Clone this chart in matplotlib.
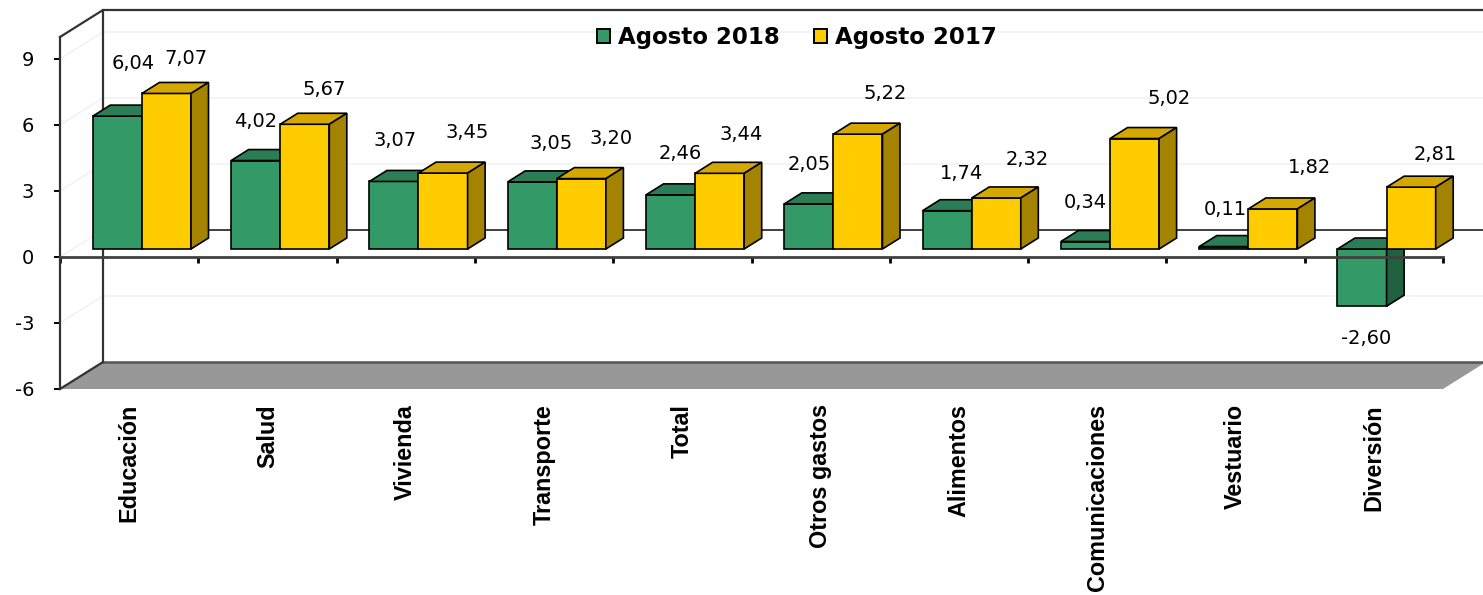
import matplotlib.pyplot as plt
from matplotlib.patches import Polygon, Patch

plt.rcParams['font.family'] = ['DejaVu Sans']
plt.rcParams['axes.unicode_minus'] = False

categories = ['Educación', 'Salud', 'Vivienda', 'Transporte', 'Total',
              'Otros gastos', 'Alimentos', 'Comunicaciones', 'Vestuario', 'Diversión']
ago_2018 = [6.04, 4.02, 3.07, 3.05, 2.46, 2.05, 1.74, 0.34, 0.11, -2.60]
ago_2017 = [7.07, 5.67, 3.45, 3.20, 3.44, 5.22, 2.32, 5.02, 1.82, 2.81]
series_names = ['Agosto 2018', 'Agosto 2017']
yticks = [-6, -3, 0, 3, 6, 9]
ymin, ymax = -6, 10

# data label offsets left by hand in the original (pixels from the bar's front edge)
lab_dx_2018 = [16, 0, 1, 19, 10, 0, 14, 0, 2, 4]
lab_dy_2018 = [-54, -41, -42, -40, -43, -41, -39, -41, -39, 31]
lab_dx_2017 = [19, 19, 24, 30, 21, 27, 31, 35, 37, 24]
lab_dy_2017 = [-36, -36, -42, -42, -40, -42, -40, -42, -43, -34]

### fake 3-D box: px per category, px per unit, depth offset
SX, SY = 138.3, 22.0
DX, DY = 43 / SX, 27 / SY
D0, D1 = 8 / 27, 19 / 27     # bars sit mid-depth
BW = 0.355

green = ('#339966', '#2a7d55', '#20623f')
yellow = ('#ffcc00', '#d4a800', '#a38300')
edge = '#333333'


def P(x, v, d):
    return (x + DX * d, v + DY * d)


def bar3d(ax, x0, v, cols, z):
    x1 = x0 + BW
    top, bot = max(v, 0), min(v, 0)
    front = [P(x0, bot, D0), P(x1, bot, D0), P(x1, top, D0), P(x0, top, D0)]
    lid = [P(x0, top, D0), P(x1, top, D0), P(x1, top, D1), P(x0, top, D1)]
    side = [P(x1, bot, D0), P(x1, bot, D1), P(x1, top, D1), P(x1, top, D0)]
    for pts, c in zip([front, lid, side], cols):
        ax.add_patch(Polygon(pts, closed=True, fc=c, ec='black', lw=1.2, zorder=z))


def fmt(v):
    return '{0:.2f}'.format(v).replace('.', ',')


fig = plt.figure(figsize=(14.83, 5.95), dpi=100)
ax = fig.add_axes([0, 0, 1, 1])
ax.set_xlim(-60 / SX, (1483 - 60) / SX)
ax.set_ylim(-(595 - 257) / SY, 257 / SY)
ax.patch.set_visible(False)
n = len(categories)

# floor
ax.add_patch(Polygon([P(0, ymin, 0), P(n, ymin, 0), P(n, ymin, 1), P(0, ymin, 1)],
                     closed=True, fc='#989898', ec='none', zorder=0.5))
ax.plot(*zip(P(0, ymin, 1), P(n, ymin, 1)), color='#555555', lw=1.8, zorder=0.6)

# faint gridlines on back and side wall
for v in yticks[1:]:
    ax.plot(*zip(P(0, v, 0), P(0, v, 1), P(n, v, 1)), color='#f0f0f0', lw=1, zorder=0.55)
ax.plot(*zip(P(0, 0, 1), P(n, 0, 1)), color=edge, lw=1.3, zorder=0.7)

# wall outline
ax.plot(*zip(P(0, ymin, 0), P(0, ymin, 1), P(0, ymax, 1), P(0, ymax, 0)),
        color=edge, lw=1.6, zorder=0.8)
ax.plot(*zip(P(0, ymax, 1), P(n, ymax, 1)), color=edge, lw=1.6, zorder=0.8)

# bars, left to right so the side faces overlap correctly
for i in range(n):
    bar3d(ax, i + 0.5 - BW, ago_2018[i], green, 1 + i * 0.01)
    bar3d(ax, i + 0.5, ago_2017[i], yellow, 1.005 + i * 0.01)

# data labels
for vals, dxs, dys, off in [(ago_2018, lab_dx_2018, lab_dy_2018, -BW / 2),
                            (ago_2017, lab_dx_2017, lab_dy_2017, BW / 2)]:
    for i, v in enumerate(vals):
        ax.annotate(fmt(v), xy=P(i + 0.5 + off, v, D0), xytext=(dxs[i], -dys[i] - 7),
                    textcoords='offset pixels', ha='center', va='baseline',
                    fontsize=14, color='black', zorder=4)

# axes: value axis on the front-left edge, category axis at zero
for s in ['top', 'right']:
    ax.spines[s].set_visible(False)
ax.spines['left'].set_position(('data', 0))
ax.spines['left'].set_bounds(ymin, ymax)
ax.spines['bottom'].set_position(('data', 0))
ax.spines['bottom'].set_bounds(0, n)
ax.spines['left'].set_color(edge)
ax.spines['bottom'].set_color('#404040')
ax.spines['left'].set_linewidth(1.6)
ax.spines['bottom'].set_linewidth(2.0)
ax.spines['left'].set_zorder(5)
ax.spines['bottom'].set_zorder(5)
ax.set_yticks(yticks)
ax.set_yticklabels([str(t) for t in yticks])
ax.set_xticks(range(n + 1))
ax.set_xticklabels([''] * (n + 1))
ax.tick_params(axis='y', direction='out', length=4.5, width=1.4, color='black',
               pad=14, labelsize=14)
ax.tick_params(axis='x', direction='out', length=4.5, width=2.0, color='black')
ax.set_axisbelow(False)

# category names under the floor
for i, c in enumerate(categories):
    ax.text(i + 0.5, (257 - 404) / SY, c, rotation=90, ha='center', va='top',
            family='Liberation Sans', fontweight='bold', fontsize=16.8)

handles = [Patch(fc=green[0], ec='black', lw=1.4), Patch(fc=yellow[0], ec='black', lw=1.4)]
fig.legend(handles, series_names, loc='center', bbox_to_anchor=(0.5375, 0.937), ncol=2,
           frameon=False, handlelength=0.55, handleheight=0.55, handletextpad=0.35,
           columnspacing=1.5, prop={'weight': 'bold', 'size': 16.5})

fig.savefig('out.png', dpi=100, facecolor='white')
